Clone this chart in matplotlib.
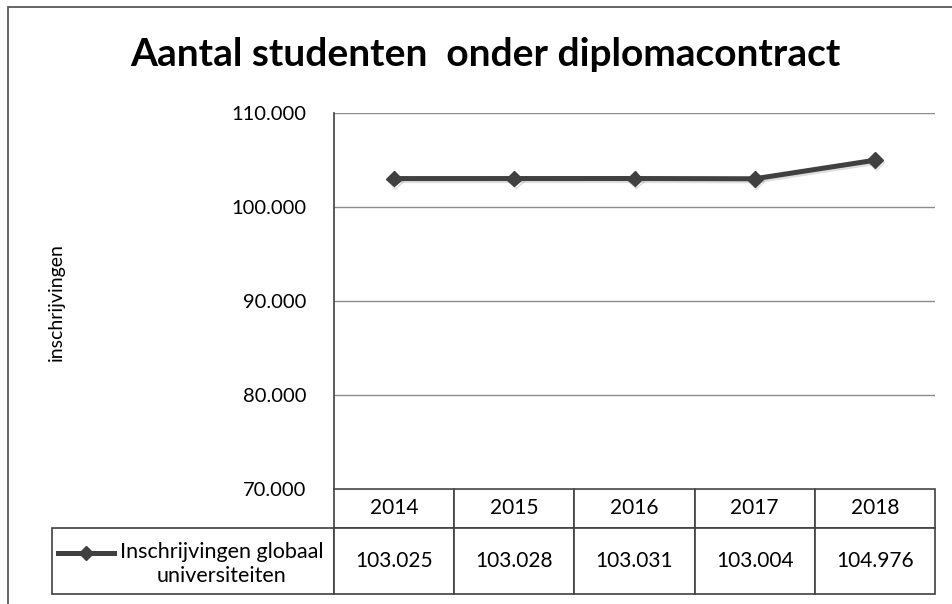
import matplotlib.pyplot as plt
import matplotlib.patheffects as pe
from matplotlib.patches import Rectangle
from matplotlib.lines import Line2D

plt.rcParams['font.family'] = ['Lato', 'DejaVu Sans']

# Gegevens
jaren = ['2014', '2015', '2016', '2017', '2018']
inschrijvingen = [103025, 103028, 103031, 103004, 104976]
reeks_naam = 'Inschrijvingen globaal\nuniversiteiten'
titel = 'Aantal studenten  onder diplomacontract'
y_ticks = [70000, 80000, 90000, 100000, 110000]

W, H = 952, 604
fig = plt.figure(figsize=(W / 100, H / 100), dpi=100)

# buitenrand van de grafiek (rechts en onder afgesneden)
fig.add_artist(Rectangle((8 / W, -0.05), 1.1, 1 - 7 / H + 0.05, transform=fig.transFigure,
                         fill=False, edgecolor='#595959', linewidth=1.3, clip_on=False))

# plotgebied
links, rechts, boven, onder = 334, 935, 113, 489
ax = fig.add_axes([links / W, 1 - onder / H, (rechts - links) / W, (onder - boven) / H])

x = list(range(len(jaren)))
ax.plot(x, inschrijvingen, color='#404040', linewidth=3.6, marker='D', markersize=8,
        markerfacecolor='#404040', markeredgecolor='#404040', zorder=3,
        path_effects=[pe.SimpleLineShadow(offset=(1, -1.5), alpha=0.2, shadow_color='#555555'),
                      pe.Normal()])

ax.set_xlim(-0.5, len(jaren) - 0.5)
ax.set_ylim(70000, 110000)
ax.set_yticks(y_ticks)
ax.set_yticklabels([f'{v:,}'.replace(',', '.') for v in y_ticks], fontsize=14.5)
ax.set_xticks([])
ax.tick_params(axis='y', length=0, pad=20)
ax.grid(axis='y', color='#8c8c8c', linewidth=1)
ax.set_axisbelow(True)
for s in ['top', 'right', 'bottom']:
    ax.spines[s].set_visible(False)
ax.spines['left'].set_color('#404040')
ax.spines['left'].set_linewidth(1.2)

# gegevenstabel
kop_h, rij_h = 39, 66
tx0 = (52 - links) / (rechts - links)
tb = ax.table(cellText=[[''] + [f'{v:,}'.replace(',', '.') for v in inschrijvingen]],
              colLabels=[''] + jaren,
              colWidths=[(links - 52)] + [(rechts - links) / len(jaren)] * len(jaren),
              cellLoc='center',
              bbox=[tx0, -(kop_h + rij_h) / (onder - boven), 1 - tx0, (kop_h + rij_h) / (onder - boven)])
tb.auto_set_font_size(False)
tb.set_fontsize(15)
for (r, c), cel in tb.get_celld().items():
    cel.set_edgecolor('#404040')
    cel.set_linewidth(1.2)
    cel.set_height(kop_h if r == 0 else rij_h)
tb[(0, 0)].visible_edges = ''

# legendasleutel in de tabel
ky = 1 - 553 / H
fig.add_artist(Line2D([58 / W, 114 / W], [ky, ky], transform=fig.transFigure, color='#404040',
                      linewidth=3.6))
fig.add_artist(Line2D([86 / W], [ky], transform=fig.transFigure, color='#404040',
                      marker='D', markersize=7))
fig.text(222 / W, 1 - 564 / H, reeks_naam, ha='center', va='center', fontsize=15.5,
         linespacing=1.2)

fig.text(485 / W, 1 - 55 / H, titel, ha='center', va='center', fontsize=28, fontweight='bold')
fig.text(56 / W, 1 - 302 / H, 'inschrijvingen', rotation=90, ha='center', va='center', fontsize=14)

fig.savefig('out.png', dpi=100)
